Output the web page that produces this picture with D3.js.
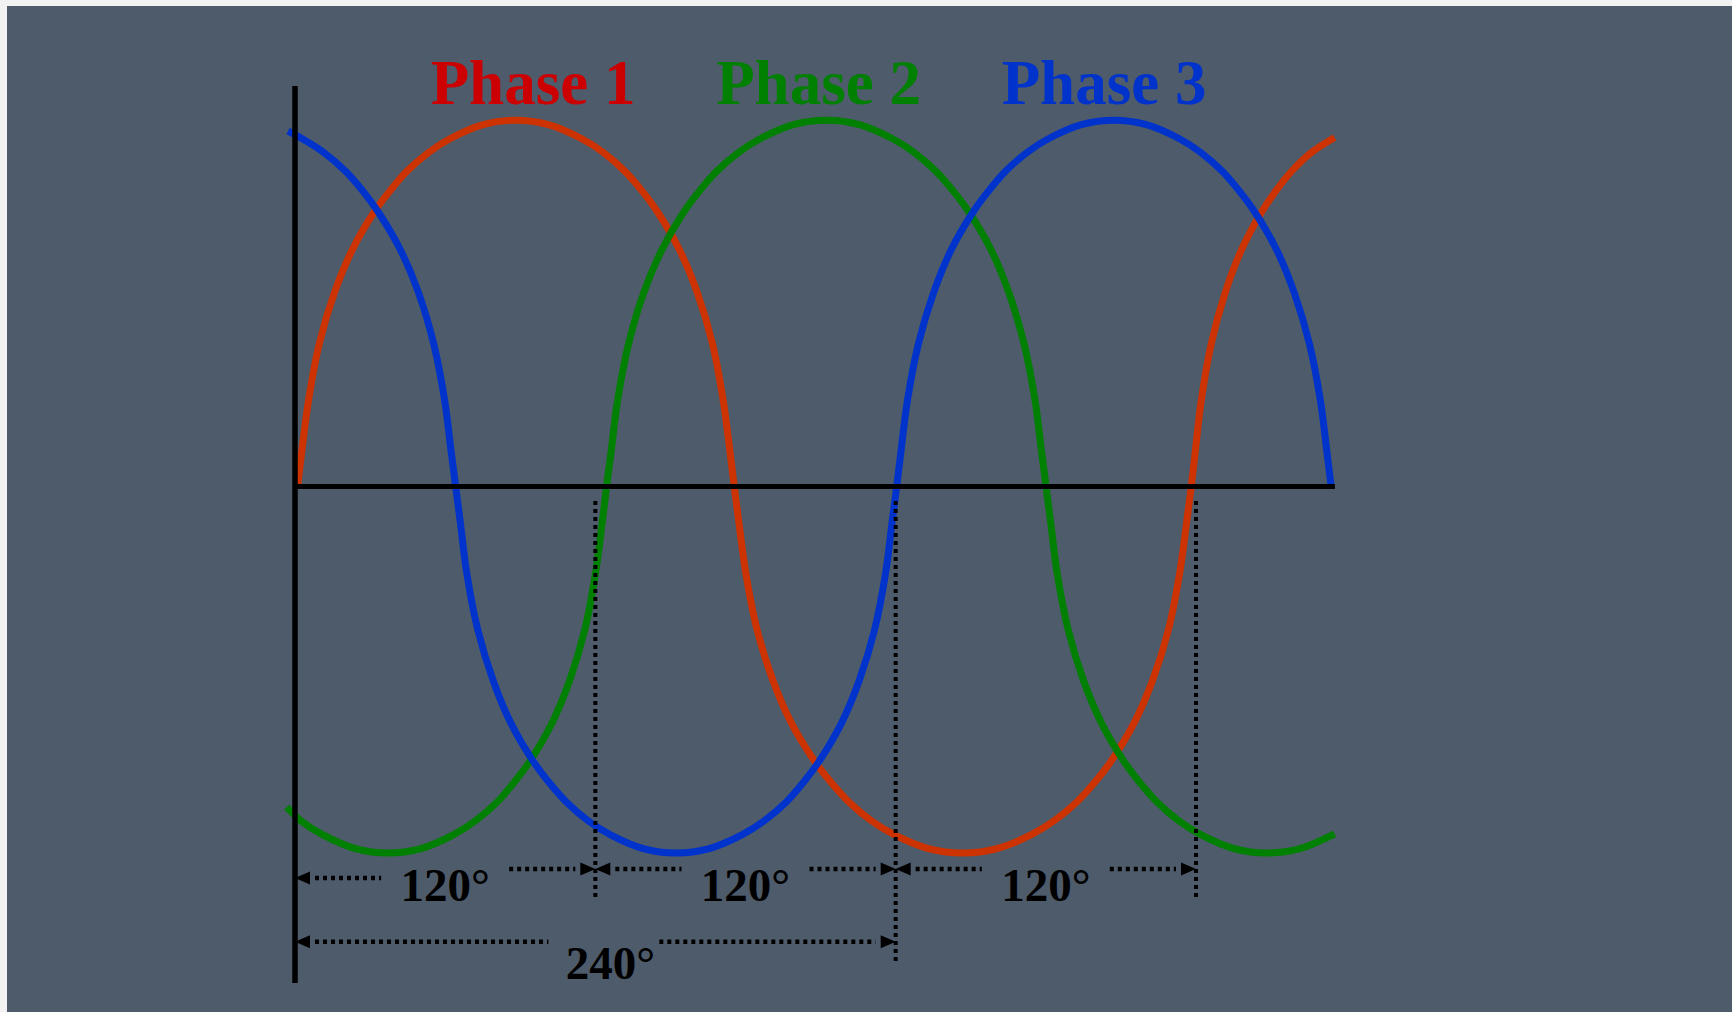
<!DOCTYPE html>
<html>
<head>
<meta charset="utf-8">
<script src="https://cdn.jsdelivr.net/npm/d3@7"></script>
<style>
  html, body { margin: 0; padding: 0; background: #f2f2f2; overflow: hidden; }
  svg { display: block; }
</style>
</head>
<body>
<svg id="chart" width="1732" height="1012"></svg>
<script>
// ---- data: electrical angle (degrees) vs. normalised instantaneous value ----
const phaseNames = ["Phase 1", "Phase 2", "Phase 3"];

const phase1 = [
  [1, 0], [2.7, 0.095], [5.4, 0.235], [9.7, 0.39], [15.8, 0.53], [22.8, 0.645], [31.5, 0.748],
  [37.7, 0.805], [44.6, 0.86], [53.4, 0.912], [62.1, 0.95], [75.2, 0.988], [88.2, 1],
  [101.3, 0.988], [114.4, 0.95], [123.2, 0.912], [131.9, 0.86], [138.9, 0.805], [145.0, 0.748],
  [153.7, 0.645], [160.7, 0.53], [166.8, 0.39], [171.1, 0.235], [173.8, 0.095], [175.5, 0],
  [177.3, -0.095], [180.1, -0.235], [184.6, -0.39], [191.0, -0.53], [198.3, -0.645], [207.5, -0.748],
  [213.9, -0.805], [221.2, -0.86], [230.3, -0.912], [239.4, -0.95], [253.1, -0.988], [266.8, -1],
  [280.5, -0.988], [294.2, -0.95], [303.3, -0.912], [312.5, -0.86], [319.8, -0.805], [326.2, -0.748],
  [335.3, -0.645], [342.6, -0.53], [349.0, -0.39], [353.5, -0.235], [356.3, -0.095], [358.1, 0],
  [359.7, 0.095], [362.1, 0.235], [366.1, 0.39], [371.7, 0.53], [378.1, 0.645], [386.1, 0.748],
  [391.7, 0.805], [398.1, 0.86], [406.1, 0.912], [415.4, 0.953]
];

const phase2 = [
  [-3.3, -0.875], [2.3, -0.912], [11.0, -0.95], [24.1, -0.988], [37.2, -1], [50.3, -0.988],
  [63.4, -0.95], [72.1, -0.912], [80.9, -0.86], [87.8, -0.805], [94.0, -0.748], [102.7, -0.645],
  [109.7, -0.53], [115.8, -0.39], [120.1, -0.235], [122.8, -0.095], [124.5, 0],
  [126.3, 0.095], [128.9, 0.235], [133.3, 0.39], [139.4, 0.53], [146.5, 0.645], [155.2, 0.748],
  [161.4, 0.805], [168.4, 0.86], [177.2, 0.912], [186.0, 0.95], [199.1, 0.988], [212.3, 1],
  [225.5, 0.988], [238.6, 0.95], [247.4, 0.912], [256.2, 0.86], [263.2, 0.805], [269.4, 0.748],
  [278.2, 0.645], [285.2, 0.53], [291.3, 0.39], [295.7, 0.235], [298.3, 0.095], [300.1, 0],
  [301.9, -0.095], [304.5, -0.235], [308.9, -0.39], [315.1, -0.53], [322.2, -0.645], [331.0, -0.748],
  [337.2, -0.805], [344.3, -0.86], [353.1, -0.912], [361.9, -0.95], [375.2, -0.988], [388.4, -1],
  [401.6, -0.988], [415.4, -0.948]
];

const phase3 = [
  [-2.8, 0.97], [2.7, 0.95], [11.5, 0.912], [20.3, 0.86], [27.3, 0.805], [33.4, 0.748],
  [42.2, 0.645], [49.3, 0.53], [55.4, 0.39], [59.8, 0.235], [62.4, 0.095], [64.2, 0],
  [66.0, -0.095], [68.6, -0.235], [73.0, -0.39], [79.2, -0.53], [86.2, -0.645], [95.0, -0.748],
  [101.2, -0.805], [108.3, -0.86], [117.1, -0.912], [125.9, -0.95], [139.1, -0.988], [152.3, -1],
  [165.5, -0.988], [178.7, -0.95], [187.5, -0.912], [196.4, -0.86], [203.4, -0.805], [209.6, -0.748],
  [218.4, -0.645], [225.4, -0.53], [231.6, -0.39], [236.0, -0.235], [238.6, -0.095], [240.4, 0],
  [242.1, 0.095], [244.7, 0.235], [249.1, 0.39], [255.2, 0.53], [262.1, 0.645], [270.8, 0.748],
  [276.9, 0.805], [283.8, 0.86], [292.5, 0.912], [301.2, 0.95], [314.2, 0.988], [327.2, 1],
  [340.2, 0.988], [353.2, 0.95], [361.9, 0.912], [370.6, 0.86], [377.5, 0.805], [383.6, 0.748],
  [392.3, 0.645], [399.2, 0.53], [405.3, 0.39], [409.7, 0.235], [412.3, 0.095], [414.0, 0]
];

// phase-shift dimension spans (degrees) and their labels
const shiftSpans  = [[0, 120], [120, 240], [240, 360]];
const shiftLabels = ["120°", "120°", "120°"];
const totalSpan   = [0, 240];
const totalLabel  = "240°";
const angleEnd    = 415.5;   // right end of the plotted window

// ---- styling ----
const curveColors = ["#cc3300", "#008000", "#0033cc"];
const textColors  = ["#cc0000", "#008000", "#0033cc"];
const bgColor = "#4e5b6b";
const serif = "'Liberation Serif', 'Times New Roman', Times, serif";

const svg = d3.select("#chart");

// panel background (thin light margin at top and left)
svg.append("rect")
  .attr("x", 7).attr("y", 6)
  .attr("width", 1725).attr("height", 1006)
  .attr("fill", bgColor);

// ---- scales ----
const xs = d3.scaleLinear().domain([0, 360]).range([295, 1196]);
const ys = d3.scaleLinear().domain([-1, 1]).range([853, 120.2]);

// ---- waveforms ----
const line = d3.line()
  .x(d => xs(d[0]))
  .y(d => ys(d[1]))
  .curve(d3.curveCatmullRom.alpha(0.5));

const phases = [phase1, phase2, phase3];
svg.append("g").selectAll("path")
  .data(phases)
  .join("path")
  .attr("d", line)
  .attr("fill", "none")
  .attr("stroke", (d, i) => curveColors[i])
  .attr("stroke-width", 7)
  .attr("stroke-linecap", "butt")
  .attr("stroke-linejoin", "round");

// ---- axes ----
const axes = svg.append("g").attr("stroke", "#000");
axes.append("line")
  .attr("x1", xs(0)).attr("x2", xs(0))
  .attr("y1", 86).attr("y2", 983)
  .attr("stroke-width", 5.5);
axes.append("line")
  .attr("x1", xs(0)).attr("x2", xs(angleEnd))
  .attr("y1", ys(0)).attr("y2", ys(0))
  .attr("stroke-width", 5);

// ---- phase labels ----
svg.append("g").selectAll("text")
  .data(phaseNames)
  .join("text")
  .attr("x", (d, i) => 533 + i * 285.5)
  .attr("y", 104)
  .attr("text-anchor", "middle")
  .attr("font-family", serif)
  .attr("font-weight", "bold")
  .attr("font-size", 63)
  .attr("fill", (d, i) => textColors[i])
  .text(d => d);

// ---- dimension markers ----
const dim = svg.append("g");
const rowY1 = 869, rowY2 = 941.7;
const headLen = 15, headHalf = 6.5;

function dotted(x1, y1, x2, y2) {
  dim.append("line")
    .attr("x1", x1).attr("y1", y1).attr("x2", x2).attr("y2", y2)
    .attr("stroke", "#000").attr("stroke-width", 4.5)
    .attr("stroke-dasharray", "4 4");
}
function head(tipX, y, dir) {      // dir = -1 points left, +1 points right
  const b = tipX - dir * headLen;
  dim.append("path")
    .attr("d", `M${tipX},${y}L${b},${y - headHalf}L${b},${y + headHalf}Z`)
    .attr("fill", "#000");
}
function label(x, y, t) {
  dim.append("text")
    .attr("x", x).attr("y", y)
    .attr("text-anchor", "middle")
    .attr("font-family", serif)
    .attr("font-weight", "bold")
    .attr("font-size", 47)
    .attr("fill", "#000")
    .text(t);
}

// vertical reference lines at each shifted zero crossing
const boundaries = shiftSpans.map(s => s[1]);
boundaries.forEach(a => {
  const bottom = a === totalSpan[1] ? 961 : 897;
  dim.append("line")
    .attr("x1", xs(a)).attr("x2", xs(a))
    .attr("y1", 501).attr("y2", bottom)
    .attr("stroke", "#000").attr("stroke-width", 4)
    .attr("stroke-dasharray", "4 4");
});

// 120° spans
shiftSpans.forEach((s, i) => {
  const a = xs(s[0]), b = xs(s[1]), mid = (a + b) / 2;
  const yl = i === 0 ? rowY1 + 9 : rowY1;
  head(a, yl, -1);
  dotted(a + 20, yl, mid - 64, yl);
  dotted(mid + 64, rowY1, b - 20, rowY1);
  head(b, rowY1, 1);
  label(mid, rowY1 + 32, shiftLabels[i]);
});

// 240° span
{
  const a = xs(totalSpan[0]), b = xs(totalSpan[1]), mid = (a + b) / 2;
  head(a, rowY2, -1);
  dotted(a + 20, rowY2, mid - 47, rowY2);
  dotted(mid + 64, rowY2, b - 20, rowY2);
  head(b, rowY2, 1);
  label(mid + 15, rowY2 + 37, totalLabel);
}
</script>
</body>
</html>
